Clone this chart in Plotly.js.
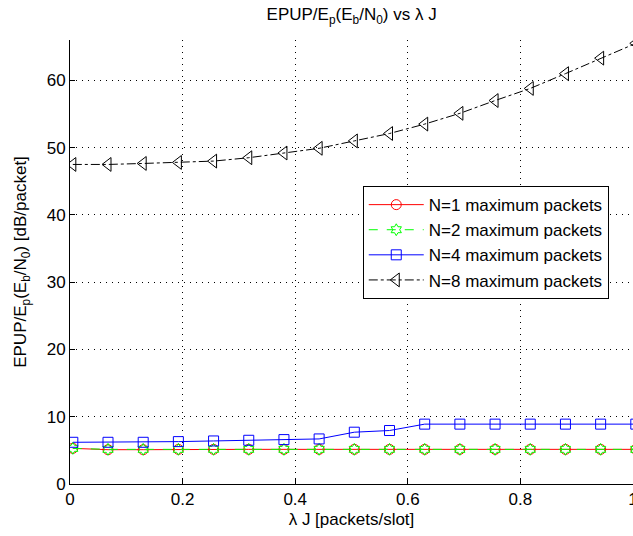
<!DOCTYPE html>
<html>
<head>
<meta charset="utf-8">
<script src="https://cdn.plot.ly/plotly-3.0.1.min.js"></script>
<style>html,body{margin:0;padding:0;background:#fff;}#chart{width:633px;height:536px;}</style>
</head>
<body>
<div id="chart"></div>
<script>
const lambdaJ = [0.005, 0.0675, 0.13, 0.1925, 0.255, 0.3175, 0.38, 0.4425, 0.505, 0.5675, 0.63, 0.6925, 0.755, 0.8175, 0.88, 0.9425, 1.005];
const n1Values = [5.3, 5.1, 5.1, 5.15, 5.15, 5.15, 5.15, 5.15, 5.15, 5.15, 5.15, 5.15, 5.15, 5.15, 5.15, 5.15, 5.15];
const n2Values = [5.3, 5.15, 5.15, 5.15, 5.15, 5.15, 5.15, 5.15, 5.15, 5.15, 5.15, 5.15, 5.15, 5.15, 5.15, 5.15, 5.15];
const n4Values = [6.2, 6.2, 6.2, 6.3, 6.4, 6.5, 6.6, 6.7, 7.7, 7.95, 8.9, 8.9, 8.9, 8.9, 8.9, 8.9, 8.9];
const n8Values = [47.5, 47.5, 47.65, 47.8, 48.0, 48.5, 49.2, 49.9, 51.0, 52.1, 53.5, 55.1, 57.0, 58.8, 61.0, 63.3, 65.5];
const seriesNames = ["N=1 maximum packets", "N=2 maximum packets", "N=4 maximum packets", "N=8 maximum packets"];
const xTickVals = [0, 0.2, 0.4, 0.6, 0.8, 1];
const xTickText = ["0", "0.2", "0.4", "0.6", "0.8", "1"];
const yTickVals = [0, 10, 20, 30, 40, 50, 60];

const font = {family: "Liberation Sans, Arial, sans-serif", size: 17, color: "#000"};
const legendFont = {family: "Liberation Sans, Arial, sans-serif", size: 17, color: "#000"};

const traces = [
  {x: lambdaJ, y: n1Values, name: seriesNames[0], mode: "lines+markers",
   line: {color: "#ff0000", width: 1}, marker: {symbol: "circle-open", size: 10, color: "#ff0000", line: {width: 1}}},
  {x: lambdaJ, y: n2Values, name: seriesNames[1], mode: "lines+markers",
   line: {color: "#00ff00", width: 1, dash: "dash"}, marker: {symbol: "hexagram-open", size: 9, color: "#00ff00", line: {width: 1}}},
  {x: lambdaJ, y: n4Values, name: seriesNames[2], mode: "lines+markers",
   line: {color: "#0000ff", width: 1}, marker: {symbol: "square-open", size: 10, color: "#0000ff", line: {width: 1}}},
  {x: lambdaJ, y: n8Values, name: seriesNames[3], mode: "lines+markers",
   line: {color: "#000000", width: 1, dash: "dashdot"}, marker: {symbol: "triangle-left-open", size: 12, color: "#000000", line: {width: 1}}}
];

const gridDash = "1px,5px";

const layout = {
  width: 633, height: 536,
  margin: {l: 70, r: 0, t: 40, b: 52},
  paper_bgcolor: "#fff", plot_bgcolor: "#fff",
  font: font,
  showlegend: true,
  title: {text: "EPUP/E<sub>p</sub>(E<sub>b</sub>/N<sub>0</sub>) vs λ J", font: font,
          x: 0.5555, xref: "container", y: 1 - 14/536, yref: "container", yanchor: "middle"},
  xaxis: {range: [0, 1], tickvals: xTickVals, ticktext: xTickText, ticklabeloverflow: "allow",
          showline: true, linecolor: "#000", linewidth: 1, mirror: false,
          ticks: "inside", ticklen: 5, tickcolor: "#000",
          showgrid: true, gridcolor: "#000", griddash: gridDash, gridwidth: 1, zeroline: false,
          tickfont: font,
          title: {text: "λ J [packets/slot]", font: font, standoff: 4}},
  yaxis: {range: [0, 66], tickvals: yTickVals,
          showline: true, linecolor: "#000", linewidth: 1, mirror: false,
          ticks: "inside", ticklen: 5, tickcolor: "#000",
          showgrid: true, gridcolor: "#000", griddash: gridDash, gridwidth: 1, zeroline: false,
          tickfont: font,
          title: {text: "EPUP/E<sub>p</sub>(E<sub>b</sub>/N<sub>0</sub>) [dB/packet]", font: font, standoff: 15}},
  legend: {x: 0.52, y: 0.671, xanchor: "left", yanchor: "top",
           bgcolor: "#fff", bordercolor: "#000", borderwidth: 1,
           font: legendFont, itemwidth: 55, tracegroupgap: 0}
};

Plotly.newPlot("chart", traces, layout, {displayModeBar: false, staticPlot: true});
</script>
</body>
</html>
